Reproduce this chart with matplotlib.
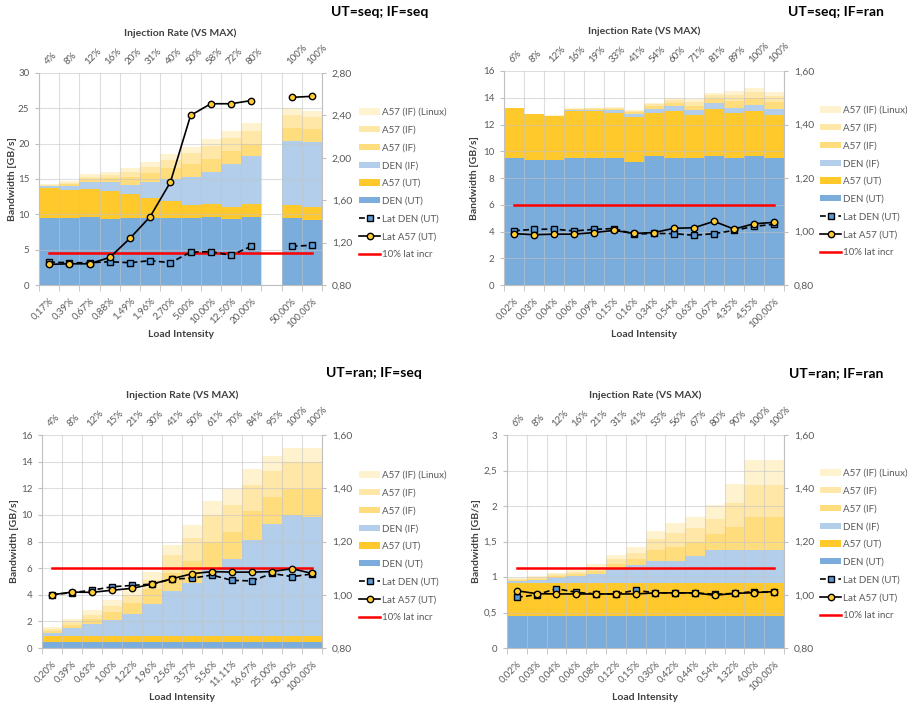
import numpy as np
import matplotlib.pyplot as plt
from matplotlib.ticker import MultipleLocator, FuncFormatter
from matplotlib.patches import Patch

plt.rcParams['font.family'] = ['Lato', 'DejaVu Sans']

nan = np.nan
lat_limit = 1.10

# ---- UT=seq; IF=seq ----
ss_load = ['0,17%', '0,39%', '0,67%', '0,88%', '1,49%', '1,96%', '2,70%', '5,00%',
           '10,00%', '12,50%', '20,00%', '', '50,00%', '100,00%']
ss_rate = ['4%', '8%', '12%', '16%', '20%', '31%', '40%', '50%', '58%', '72%', '80%', '',
           '100%', '100%']
ss_den_ut = [9.45, 9.43, 9.58, 9.29, 9.43, 9.43, 9.43, 9.43, 9.58, 9.29, 9.58, 0, 9.43, 9.25]
ss_a57_ut = [4.25, 4.02, 4.0, 4.01, 3.4, 2.93, 2.5, 1.89, 1.84, 1.79, 1.84, 0, 1.89, 1.83]
ss_den_if = [0.25, 0.6, 0.95, 1.23, 1.32, 2.26, 3.02, 3.92, 4.62, 6.04, 6.78, 0, 9.06, 9.11]
ss_a57_if1 = [0.1, 0.25, 0.42, 0.57, 1.09, 1.28, 1.55, 1.84, 1.79, 1.84, 1.75, 0, 1.79, 1.89]
ss_a57_if2 = [0.1, 0.2, 0.38, 0.47, 0.7, 0.85, 1.2, 1.55, 1.84, 1.89, 1.89, 0, 1.89, 1.74]
ss_linux = [0.1, 0.2, 0.37, 0.43, 0.56, 0.7, 0.8, 0.85, 0.99, 0.95, 1.04, 0, 0.94, 0.85]
ss_lat_den = [1.017, 1.01, 1.01, 1.02, 1.01, 1.03, 1.01, 1.11, 1.115, 1.08, 1.165, nan, 1.165, 1.175]
ss_lat_a57 = [0.995, 1.0, 1.0, 1.06, 1.24, 1.445, 1.77, 2.40, 2.51, 2.51, 2.54, nan, 2.57, 2.58]

# ---- UT=seq; IF=ran ----
sr_load = ['0,02%', '0,03%', '0,04%', '0,06%', '0,09%', '0,15%', '0,16%', '0,34%', '0,54%',
           '0,63%', '0,67%', '4,35%', '4,55%', '100,00%']
sr_rate = ['6%', '8%', '12%', '16%', '19%', '33%', '41%', '54%', '60%', '71%', '81%', '89%',
           '100%', '100%']
sr_den_ut = [9.5, 9.35, 9.35, 9.5, 9.5, 9.5, 9.2, 9.65, 9.5, 9.5, 9.65, 9.5, 9.65, 9.5]
sr_a57_ut = [3.72, 3.42, 3.27, 3.54, 3.54, 3.39, 3.39, 3.24, 3.54, 3.24, 3.54, 3.39, 3.39, 3.24]
sr_den_if = [0.0, 0.0, 0.0, 0.06, 0.08, 0.18, 0.2, 0.3, 0.33, 0.35, 0.45, 0.35, 0.45, 0.45]
sr_a57_if1 = [0.02, 0.01, 0.02, 0.04, 0.06, 0.09, 0.12, 0.18, 0.24, 0.32, 0.29, 0.52, 0.5, 0.51]
sr_a57_if2 = [0.02, 0.01, 0.02, 0.04, 0.05, 0.08, 0.11, 0.16, 0.2, 0.28, 0.25, 0.45, 0.44, 0.44]
sr_linux = [0.01, 0.01, 0.02, 0.02, 0.04, 0.06, 0.08, 0.11, 0.15, 0.2, 0.18, 0.33, 0.31, 0.32]
sr_lat_den = [1.003, 1.008, 1.009, 1.002, 1.008, 1.011, 0.99, 0.993, 0.992, 0.986, 0.992, 1.004,
              1.019, 1.027]
sr_lat_a57 = [0.992, 0.988, 0.99, 0.99, 0.996, 1.004, 0.993, 0.996, 1.012, 1.014, 1.038, 1.009,
              1.029, 1.034]

# ---- UT=ran; IF=seq ----
rs_load = ['0,20%', '0,39%', '0,63%', '1,00%', '1,22%', '1,96%', '2,56%', '3,57%', '5,56%',
           '11,11%', '16,67%', '25,00%', '50,00%', '100,00%']
rs_rate = ['4%', '8%', '12%', '15%', '21%', '30%', '41%', '50%', '61%', '70%', '84%', '95%',
           '100%', '100%']
rs_den_ut = [0.42] * 14
rs_a57_ut = [0.45] * 14
rs_den_if = [0.28, 0.61, 0.93, 1.23, 1.71, 2.46, 3.39, 4.01, 5.09, 5.84, 7.24, 8.47, 9.1, 8.94]
rs_a57_if1 = [0.15, 0.27, 0.38, 0.6, 0.8, 1.13, 1.37, 1.68, 2.0, 2.0, 2.16, 2.0, 1.97, 2.13]
rs_a57_if2 = [0.13, 0.2, 0.32, 0.43, 0.62, 0.67, 1.37, 1.7, 2.01, 2.01, 1.95, 1.98, 2.06, 2.06]
rs_linux = [0.12, 0.25, 0.35, 0.47, 0.46, 0.55, 0.76, 1.0, 1.07, 1.22, 1.25, 1.1, 1.02, 1.02]
rs_lat_den = [1.0, 1.008, 1.017, 1.03, 1.035, 1.04, 1.059, 1.062, 1.074, 1.054, 1.052, 1.08,
              1.068, 1.078]
rs_lat_a57 = [1.0, 1.01, 1.009, 1.017, 1.024, 1.04, 1.06, 1.079, 1.087, 1.085, 1.085, 1.087,
              1.098, 1.08]

# ---- UT=ran; IF=ran ----
rr_load = ['0,02%', '0,03%', '0,04%', '0,06%', '0,08%', '0,12%', '0,15%', '0,30%', '0,42%',
           '0,44%', '0,54%', '1,32%', '4,00%', '100,00%']
rr_rate = ['6%', '8%', '12%', '16%', '21%', '31%', '41%', '53%', '56%', '67%', '80%', '90%',
           '100%', '100%']
rr_den_ut = [0.455] * 14
rr_a57_ut = [0.46] * 14
rr_den_if = [0.025, 0.043, 0.075, 0.104, 0.132, 0.212, 0.259, 0.305, 0.305, 0.385, 0.465, 0.465,
             0.465, 0.465]
rr_a57_if1 = [0.02, 0.019, 0.024, 0.028, 0.043, 0.053, 0.086, 0.16, 0.2, 0.2, 0.22, 0.32, 0.46, 0.46]
rr_a57_if2 = [0.017, 0.018, 0.026, 0.028, 0.046, 0.07, 0.08, 0.16, 0.195, 0.19, 0.22, 0.34, 0.46,
              0.46]
rr_linux = [0.013, 0.019, 0.02, 0.025, 0.044, 0.06, 0.08, 0.11, 0.145, 0.15, 0.19, 0.27, 0.35, 0.35]
rr_lat_den = [0.99, 1.0, 1.023, 1.009, 1.003, 1.003, 1.017, 1.007, 1.007, 1.007, 1.002, 1.005,
              1.012, 1.009]
rr_lat_a57 = [1.015, 1.004, 1.003, 1.003, 1.003, 1.003, 1.003, 1.007, 1.007, 1.007, 0.998, 1.005,
              1.008, 1.012]

# stack order bottom -> top
bar_names = ['DEN (UT)', 'A57 (UT)', 'DEN (IF)', 'A57 (IF)', 'A57 (IF)', 'A57 (IF) (Linux)']
bar_colors = ['#7AACDC', '#FFC92B', '#B2CEEA', '#FFDC7C', '#FFE7A8', '#FFF2CF']

W, H = 909, 709
fig = plt.figure(figsize=(W / 100, H / 100), dpi=100)

GRID = '#C4C4C4'
AXC = '#BFBFBF'
TXT = '#595959'
FS = 7


def comma(fmt):
    return FuncFormatter(lambda v, pos: (fmt % v).replace('.', ','))


def panel(box, title, title_xy, load, rate, stack, lat_den, lat_a57,
          ylim, ystep, yfmt, y2lim, y2step, ylab_x, legend_xy):
    l, t, r, b = box
    ax = fig.add_axes([l / W, 1 - b / H, (r - l) / W, (b - t) / H])
    n = len(load)
    x = np.arange(n)

    bottom = np.zeros(n)
    handles = []
    for vals, col in zip(stack, bar_colors):
        vals = np.asarray(vals, float)
        ax.bar(x, vals, 1.0, bottom=bottom, color=col, linewidth=0, zorder=1)
        bottom += vals
        handles.append(Patch(facecolor=col))

    ax.set_xlim(-0.5, n - 0.5)
    ax.set_ylim(*ylim)
    ax.yaxis.set_major_locator(MultipleLocator(ystep))
    ax.yaxis.set_major_formatter(comma(yfmt))
    ax.set_xticks(x, load, rotation=45, ha='right', rotation_mode='anchor')
    ax.set_xticks(np.arange(n + 1) - 0.5, minor=True)
    ax.tick_params(axis='x', which='major', length=0, pad=8, labelsize=FS, labelcolor=TXT)
    ax.tick_params(axis='x', which='minor', length=4, color=AXC)
    ax.tick_params(axis='y', length=3, color=AXC, labelsize=FS, labelcolor=TXT, pad=4)
    ax.set_axisbelow(False)
    ax.grid(axis='y', which='major', color=GRID, lw=0.8, alpha=0.55)
    ax.grid(axis='x', which='minor', color=GRID, lw=0.8, alpha=0.55)
    for side in ['top', 'right']:
        ax.spines[side].set_visible(False)
    for side in ['left', 'bottom']:
        ax.spines[side].set_color(AXC)

    # injection rate labels along the top
    for xi, lab in zip(x, rate):
        ax.annotate(lab, (xi, 1), xycoords=('data', 'axes fraction'), xytext=(0, 5),
                    textcoords='offset points', rotation=45, ha='left', va='bottom',
                    rotation_mode='anchor', fontsize=FS, color=TXT)

    ax2 = ax.twinx()
    ax2.set_ylim(*y2lim)
    ax2.yaxis.set_major_locator(MultipleLocator(y2step))
    ax2.yaxis.set_major_formatter(comma('%.2f'))
    ax2.tick_params(axis='y', length=3, color=AXC, labelsize=FS + 0.5, labelcolor=TXT, pad=4)
    for side in ['top', 'left', 'bottom']:
        ax2.spines[side].set_visible(False)
    ax2.spines['right'].set_color(AXC)

    h_den, = ax2.plot(x, lat_den, color='black', ls=(0, (3.5, 2)), lw=1.2, marker='s', ms=4.6,
                      mfc='#5B9BD5', mec='black', mew=1.0, zorder=3)
    h_a57, = ax2.plot(x, lat_a57, color='black', ls='-', lw=1.2, marker='o', ms=4.6,
                      mfc='#FFCC33', mec='black', mew=1.0, zorder=4)
    h_lim, = ax2.plot(x, [lat_limit] * n, color='#FF0000', lw=1.8, zorder=2)

    cx = (l + r) / 2
    fig.text(title_xy[0] / W, 1 - title_xy[1] / H, title, ha='center', va='center',
             fontsize=10, fontweight='bold')
    fig.text(cx / W, 1 - (t - 40) / H, 'Injection Rate (VS MAX)', ha='center', va='center',
             fontsize=FS + 0.5, fontweight='bold', color='#404040')
    fig.text(cx / W, 1 - (b + 50) / H, 'Load Intensity', ha='center', va='center',
             fontsize=FS + 0.5, fontweight='bold', color='#404040')
    fig.text(ylab_x / W, 1 - (t + b) / 2 / H, 'Bandwidth [GB/s]', ha='center', va='center',
             rotation=90, fontsize=FS + 0.5, fontweight='bold', color='#404040')

    leg_handles = handles[::-1] + [h_den, h_a57, h_lim]
    leg_labels = bar_names[::-1] + ['Lat DEN (UT)', 'Lat A57 (UT)', '10% lat incr']
    fig.legend(leg_handles, leg_labels, loc='upper left',
               bbox_to_anchor=(legend_xy[0] / W, 1 - legend_xy[1] / H),
               frameon=False, fontsize=FS, labelcolor=TXT, handlelength=2.2,
               handleheight=0.6, handletextpad=0.2, labelspacing=0.9, borderpad=0,
               borderaxespad=0)


panel((39, 73, 322, 285), 'UT=seq; IF=seq', (380, 12), ss_load, ss_rate,
      [ss_den_ut, ss_a57_ut, ss_den_if, ss_a57_if1, ss_a57_if2, ss_linux],
      ss_lat_den, ss_lat_a57, (0, 30), 5, '%g', (0.8, 2.8), 0.4, 13, (359, 108))

panel((504, 71, 784, 285), 'UT=seq; IF=ran', (836, 12), sr_load, sr_rate,
      [sr_den_ut, sr_a57_ut, sr_den_if, sr_a57_if1, sr_a57_if2, sr_linux],
      sr_lat_den, sr_lat_a57, (0, 16), 2, '%g', (0.8, 1.6), 0.2, 475, (820, 106))

panel((42, 435, 322, 648), 'UT=ran; IF=seq', (374, 373), rs_load, rs_rate,
      [rs_den_ut, rs_a57_ut, rs_den_if, rs_a57_if1, rs_a57_if2, rs_linux],
      rs_lat_den, rs_lat_a57, (0, 16), 2, '%g', (0.8, 1.6), 0.2, 15, (359, 471))

panel((507, 435, 784, 648), 'UT=ran; IF=ran', (836, 373), rr_load, rr_rate,
      [rr_den_ut, rr_a57_ut, rr_den_if, rr_a57_if1, rr_a57_if2, rr_linux],
      rr_lat_den, rr_lat_a57, (0, 3), 0.5, '%g', (0.8, 1.6), 0.2, 476, (820, 469))

fig.savefig('out.png', dpi=100)
